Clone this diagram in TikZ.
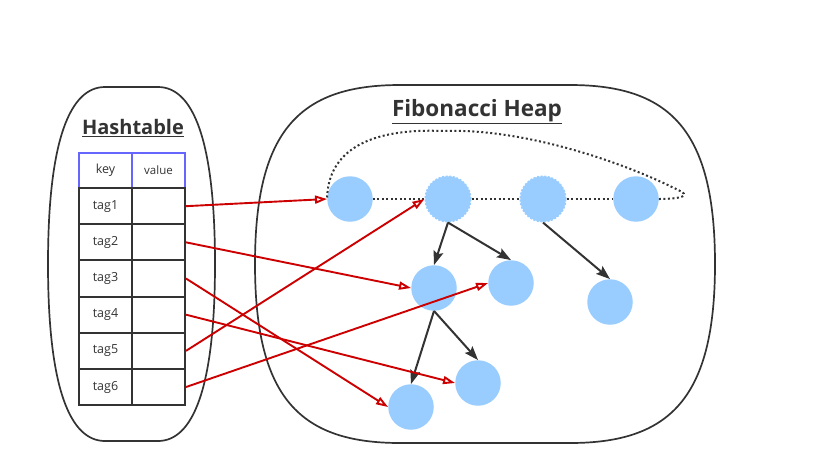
\documentclass[tikz,border=0pt]{standalone}
\usepackage{fontspec}
\setmainfont{Open Sans}
\usetikzlibrary{arrows.meta}
\definecolor{heapblue}{HTML}{99CCFF}
\definecolor{darktext}{HTML}{333333}
\definecolor{linkred}{HTML}{CC0000}
\definecolor{headblue}{HTML}{6666FF}
\begin{document}
\begin{tikzpicture}[x=1pt,y=-1pt,
    cell/.style={draw=darktext,line width=2pt,minimum width=53pt,minimum height=36.2pt,inner sep=0pt,text=darktext,font=\fontsize{12.5}{14}\selectfont},
    headcell/.style={cell,draw=headblue,minimum height=35pt},
    heapnode/.style={circle,fill=heapblue,minimum size=45.5pt,inner sep=0pt},
    marked/.style={heapnode,draw=heapblue,line width=1.6pt,dash pattern=on 2pt off 1.6pt},
    child/.style={draw=darktext,line width=2pt,-{Stealth[length=14pt,width=10pt,inset=2.5pt]}},
    link/.style={draw=linkred,line width=1.9pt,-{Triangle[open,length=12pt,width=8pt]}},
    ring/.style={draw=darktext,line width=2pt,dash pattern=on 2pt off 2.5pt},
    title/.style={text=darktext,font=\fontsize{20}{22}\selectfont\bfseries}]
\useasboundingbox (0,0) rectangle (822,475);
% containers
\draw[darktext,line width=1.7pt] (48,264) .. controls (48,140) and (70,87) .. (105,87) -- (158,87)
    .. controls (193,87) and (215,140) .. (215,264) .. controls (215,388) and (193,441) .. (158,441)
    -- (105,441) .. controls (70,441) and (48,388) .. cycle;
\draw[darktext,line width=1.7pt] (255,264) .. controls (255,130) and (300,85) .. (400,85) -- (570,85)
    .. controls (670,85) and (715,130) .. (715,264) .. controls (715,398) and (670,443) .. (570,443)
    -- (400,443) .. controls (300,443) and (255,398) .. cycle;
\node[title] (httitle) at (133,128) {\underline{Hashtable}};
\node[title,font=\fontsize{22.5}{24}\selectfont\bfseries] (fhtitle) at (477,112) {\underline{Fibonacci Heap}};
% table
\node[headcell] (khead) at (105.5,170.5) {key};
\node[headcell] (vhead) at (158.5,170.5) {\fontsize{11.5}{13}\selectfont value};
\foreach \i in {1,...,6}{
    \node[cell] (k\i) at (105.5,{170+36.17*\i}) {tag\i};
    \node[cell] (v\i) at (158.5,{170+36.17*\i}) {};
}
% heap
\node[heapnode] (A) at (350,199) {};
\node[marked] (B) at (448,199) {};
\node[marked] (C) at (543,199) {};
\node[heapnode] (D) at (636,199) {};
\node[heapnode] (E) at (434,288) {};
\node[heapnode] (F) at (511,283) {};
\node[heapnode] (G) at (478,383) {};
\node[heapnode] (H) at (411,407) {};
\node[heapnode] (I) at (610,302) {};
\draw[ring] (A) -- (B) -- (C) -- (D);
\draw[ring] (D.east) .. controls (675,199) and (690,197) .. (682,192)
    .. controls (620,160) and (520,128) .. (443,131)
    .. controls (370,128) and (328,150) .. (A.west);
\draw[child] (B.south) -- (E.north);
\draw[child] (B.south) -- (F.north);
\draw[child] (C.south) -- (I.north);
\draw[child] (E.south) -- (H.north);
\draw[child] (E.south) -- (G.north);
% pointers
\draw[link] (v1.east) -- (A.west);
\draw[link] (v2.east) -- (E.west);
\draw[link] (v3.east) -- (H.west);
\draw[link] (v4.east) -- (G.west);
\draw[link] (v5.east) -- (B.west);
\draw[link] (v6.east) -- (F.west);
\end{tikzpicture}
\end{document}
